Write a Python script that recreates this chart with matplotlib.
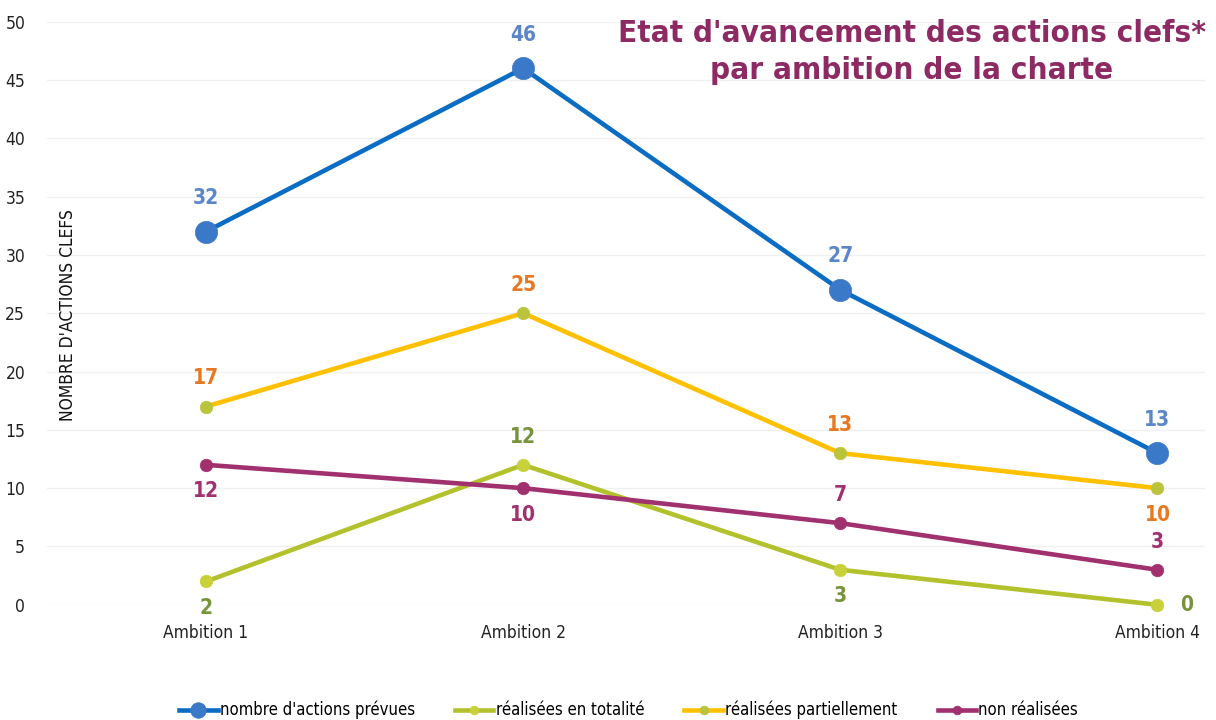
import matplotlib
matplotlib.use("Agg")
import matplotlib.pyplot as plt

# data
categories = ["Ambition 1", "Ambition 2", "Ambition 3", "Ambition 4"]
prevues = [32, 46, 27, 13]
totalite = [2, 12, 3, 0]
partiel = [17, 25, 13, 10]
non_realisees = [12, 10, 7, 3]

plt.rcParams['font.family'] = ["DejaVu Sans"]
plt.rcParams['font.stretch'] = "condensed"

fig = plt.figure(figsize=(12.16, 7.2), dpi=100)
ax = fig.add_axes([0.039, 0.16, 0.952, 0.81])

x = list(range(len(categories)))

# (values, line colour, marker face, marker size, label colour, label offsets, legend name)
series = [
    (prevues, "#0a6cc2", "#3a78c8", 16, "#5b87c9", ["a", "a", "a", "a"], "nombre d'actions prévues"),
    (totalite, "#b3c12d", "#c8d03a", 9, "#77933c", ["b", "a", "b", "r"], "réalisées en totalité"),
    (partiel, "#ffc000", "#b9c33c", 9, "#e87722", ["a", "a", "a", "b"], "réalisées partiellement"),
    (non_realisees, "#a0306e", "#a0306e", 9, "#a0306e", ["b", "b", "a", "a"], "non réalisées"),
]

for vals, lc, mc, ms, tc, pos, name in series:
    ax.plot(x, vals, color=lc, lw=3.3, marker="o", ms=ms, mfc=mc,
            mec=mc, mew=0.5, label=name, zorder=3 if ms < 15 else 4,
            clip_on=False)
    for xi, v, p in zip(x, vals, pos):
        if p == "a":
            off, ha, va = (0, 13 if ms < 15 else 17), "center", "bottom"
        elif p == "b":
            off, ha, va = (0, -12), "center", "top"
        else:
            off, ha, va = (16, 0), "left", "center"
        ax.annotate(str(v), (xi, v), xytext=off, textcoords="offset points",
                    ha=ha, va=va, color=tc, fontsize=15, fontweight="bold")

ax.set_xlim(-0.5, 3.15)
ax.set_ylim(0, 50)
ax.set_yticks(range(0, 51, 5))
ax.set_xticks(x)
ax.set_xticklabels(categories)
ax.tick_params(axis="both", length=0, labelsize=12.5, colors="#222222")
ax.tick_params(axis="y", pad=16)
ax.tick_params(axis="x", pad=14)
ax.grid(axis="y", color="#f0f0f0", lw=1)
ax.set_axisbelow(True)
for s in ax.spines.values():
    s.set_visible(False)

fig.text(0.056, 0.5625, "NOMBRE D'ACTIONS CLEFS", rotation=90, ha="center",
         va="center", fontsize=12.5, color="#111111")

fig.text(0.75, 0.928, "Etat d'avancement des actions clefs*\npar ambition de la charte",
         ha="center", va="center", fontsize=22.5, fontweight="bold",
         color="#8e2a63", linespacing=1.35)

fig.legend(loc="lower center", bbox_to_anchor=(0.517, -0.02), ncol=4,
           frameon=False, fontsize=12, handlelength=2.3, columnspacing=2.4,
           handletextpad=0.15, markerscale=0.7)

fig.savefig("out.png", dpi=100)
